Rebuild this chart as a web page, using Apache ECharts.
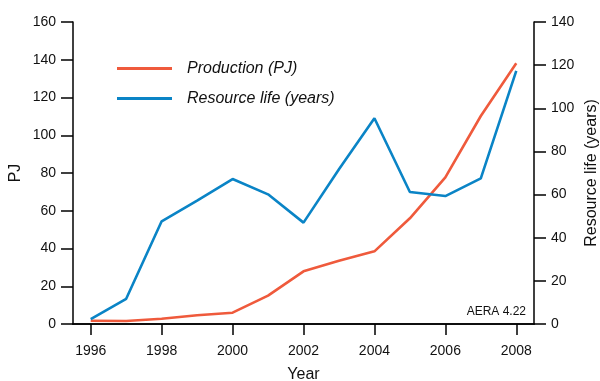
<!DOCTYPE html>
<html>
<head>
<meta charset="utf-8">
<script src="https://cdn.jsdelivr.net/npm/echarts@6/dist/echarts.min.js"></script>
<style>
  html, body { margin: 0; padding: 0; background: #fff; }
  #main { width: 600px; height: 381px; }
</style>
</head>
<body>
<div id="main"></div>
<script>
const years = [1996, 1997, 1998, 1999, 2000, 2001, 2002, 2003, 2004, 2005, 2006, 2007, 2008];
const production = [1.7, 1.6, 2.8, 4.6, 6.0, 15.0, 27.9, 33.5, 38.5, 56.0, 77.7, 110.2, 138.1];
const resourceLife = [2.3, 11.7, 47.6, 57.2, 67.2, 60.1, 47.0, 71.7, 95.4, 61.2, 59.3, 67.5, 117.3];
const yearTicks = [1996, 1998, 2000, 2002, 2004, 2006, 2008];

const chart = echarts.init(document.getElementById("main"));
const font = "Liberation Sans, Arial, sans-serif";

// pair each year with its value for the value-type x axis
const toPoints = (vals) => years.map((y, i) => [y, vals[i]]);

const option = {
  animation: false,
  textStyle: { fontFamily: font },
  grid: { left: 73, right: 66, top: 22, bottom: 57, outerBoundsMode: "none", containLabel: false },
  legend: {
    orient: "vertical",
    left: 112,
    top: 55,
    itemWidth: 55,
    itemHeight: 3,
    itemGap: 13,
    icon: "rect",
    textStyle: {
      fontSize: 16,
      fontStyle: "italic",
      color: "#111",
      padding: [0, 0, 0, 10],
      lineHeight: 17,
    },
    data: ["Production (PJ)", "Resource life (years)"],
  },
  xAxis: [
    {
      type: "value",
      min: 1995.5,
      max: 2008.5,
      name: "Year",
      nameLocation: "middle",
      nameGap: 43,
      nameTextStyle: { fontSize: 16, color: "#111" },
      splitLine: { show: false },
      axisLine: { lineStyle: { color: "#000", width: 1.5 } },
      axisTick: {
        show: true,
        length: 11,
        lineStyle: { color: "#000", width: 1.5 },
        customValues: yearTicks,
      },
      axisLabel: {
        fontSize: 14,
        color: "#111",
        margin: 20,
        customValues: yearTicks,
        formatter: (v) => String(v),
      },
    },
    {
      type: "value",
      position: "top",
      min: 1995.5,
      max: 2008.5,
      splitLine: { show: false },
      axisLine: { lineStyle: { color: "#000", width: 1.5 } },
      axisTick: { show: false },
      axisLabel: { show: false },
    },
  ],
  yAxis: [
    {
      type: "value",
      min: 0,
      max: 160,
      interval: 20,
      name: "PJ",
      nameLocation: "middle",
      nameGap: 49,
      nameMoveOverlap: false,
      nameTextStyle: { fontSize: 16, color: "#111" },
      splitLine: { show: false },
      axisLine: { show: true, lineStyle: { color: "#000", width: 1.5 } },
      axisTick: { show: true, length: 12, lineStyle: { color: "#000", width: 1.5 } },
      axisLabel: { fontSize: 14, color: "#111", margin: 17 },
    },
    {
      type: "value",
      min: 0,
      max: 140,
      interval: 20,
      name: "Resource life (years)",
      nameLocation: "middle",
      nameGap: 50,
      nameMoveOverlap: false,
      nameTextStyle: { fontSize: 16, color: "#111" },
      splitLine: { show: false },
      axisLine: { show: true, lineStyle: { color: "#000", width: 1.5 } },
      axisTick: { show: true, length: 12, lineStyle: { color: "#000", width: 1.5 } },
      axisLabel: { fontSize: 14, color: "#111", margin: 17 },
    },
  ],
  graphic: [
    {
      type: "text",
      right: 74,
      top: 306,
      style: { text: "AERA 4.22", fontSize: 12, fill: "#111", fontFamily: font },
    },
  ],
  series: [
    {
      name: "Production (PJ)",
      type: "line",
      yAxisIndex: 0,
      showSymbol: false,
      data: toPoints(production),
      lineStyle: { color: "#ef5a3c", width: 2.6 },
      itemStyle: { color: "#ef5a3c" },
    },
    {
      name: "Resource life (years)",
      type: "line",
      yAxisIndex: 1,
      showSymbol: false,
      data: toPoints(resourceLife),
      lineStyle: { color: "#0a84c6", width: 2.6 },
      itemStyle: { color: "#0a84c6" },
    },
  ],
};

chart.setOption(option);
</script>
</body>
</html>
